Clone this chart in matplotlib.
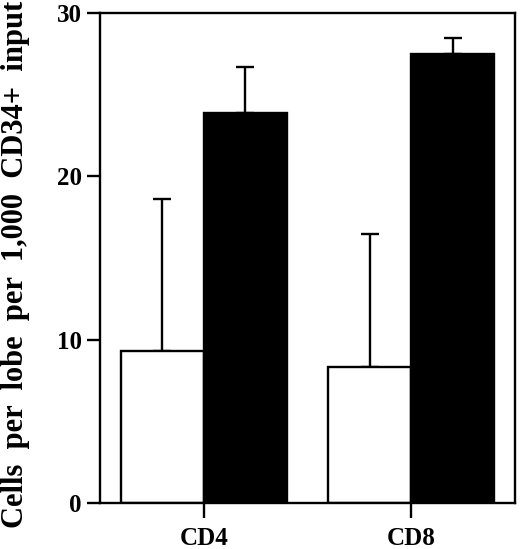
import matplotlib
matplotlib.use("Agg")
import matplotlib.pyplot as plt
import numpy as np

categories = ["CD4", "CD8"]
white_vals = [9.3, 8.3]
white_err = [9.3, 8.2]
black_vals = [23.9, 27.5]
black_err = [2.8, 1.0]
yticks = [0, 10, 20, 30]

plt.rcParams['font.family'] = ['Liberation Serif', 'DejaVu Serif']
plt.rcParams['font.weight'] = 'bold'

fig = plt.figure(figsize=(5.2, 5.49), dpi=100)
ax = fig.add_axes([0.1923, 0.0838, 0.7977, 0.8925])

x = np.arange(len(categories))
w = 0.4
lw = 1.7
ax.bar(x - w / 2, white_vals, width=w, color='white', edgecolor='black', linewidth=lw, zorder=2)
ax.bar(x + w / 2, black_vals, width=w, color='black', edgecolor='black', linewidth=lw, zorder=2)
ax.errorbar(x - w / 2, white_vals, yerr=[np.zeros(len(x)), white_err], fmt='none',
            ecolor='black', elinewidth=lw, capsize=6.5, capthick=lw, zorder=1)
ax.errorbar(x + w / 2, black_vals, yerr=[np.zeros(len(x)), black_err], fmt='none',
            ecolor='black', elinewidth=lw, capsize=6.5, capthick=lw, zorder=1)

ax.set_xlim(-0.5, 1.5)
ax.set_ylim(0, 30)
ax.set_yticks(yticks)
ax.set_yticklabels([str(t) for t in yticks], fontsize=18, fontweight='bold')
ax.set_xticks(x)
ax.set_xticklabels(categories, fontsize=18, fontweight='bold')
ax.tick_params(axis='y', direction='out', length=9.5, width=lw, pad=3.5)
ax.tick_params(axis='x', direction='out', length=11, width=lw, pad=6.5)
for s in ax.spines.values():
    s.set_linewidth(lw)

ax.set_ylabel("Cells  per  lobe  per  1,000  CD34+  input", fontsize=22, fontweight='bold')
ax.yaxis.set_label_coords(-0.168, 0.486)

fig.savefig("out.png", dpi=100)
